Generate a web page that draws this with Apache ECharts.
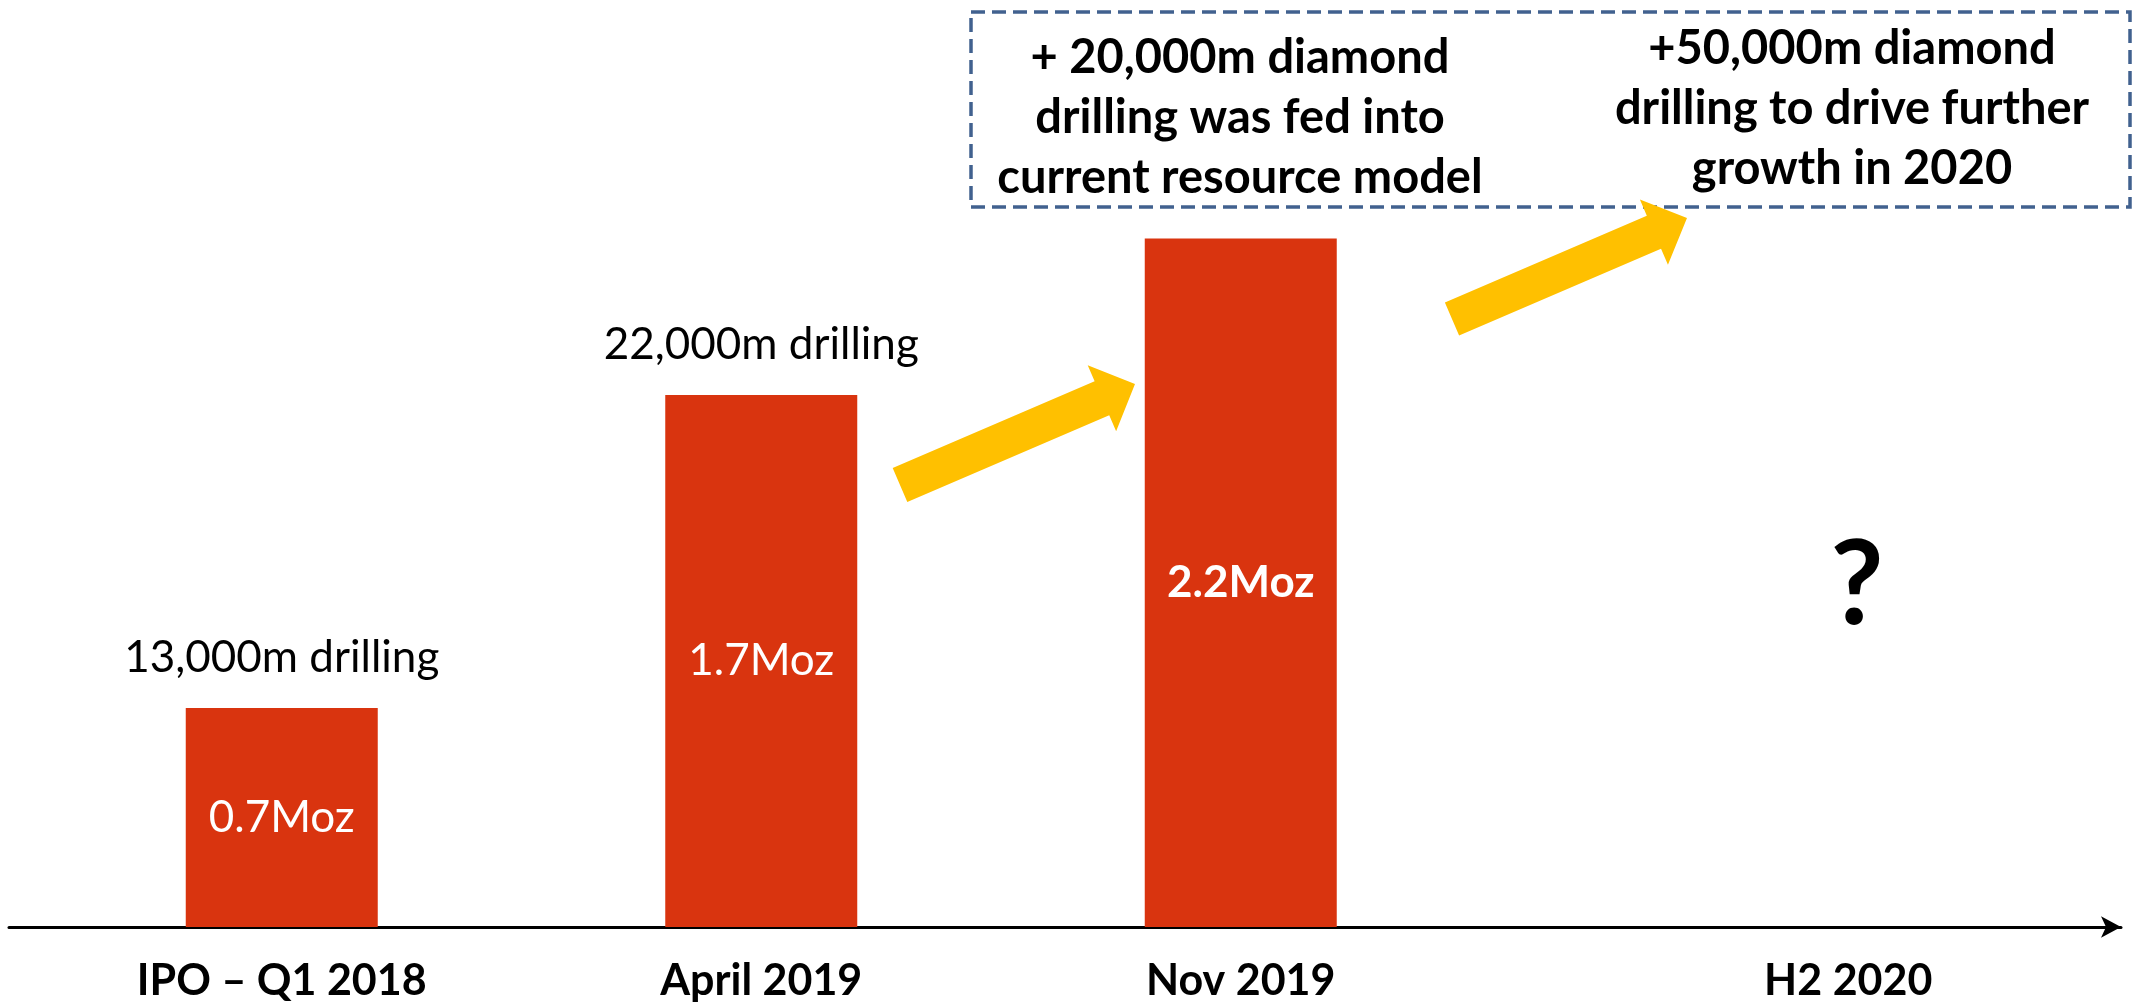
<!DOCTYPE html>
<html>
<head>
<meta charset="utf-8">
<title>Resource growth</title>
<script src="https://cdn.jsdelivr.net/npm/echarts@6/dist/echarts.min.js"></script>
<style>
  html, body { margin: 0; padding: 0; background: #fff; }
  #main { width: 2136px; height: 1003px; }
</style>
</head>
<body>
<div id="main"></div>
<script>
  // data
  const periods = ['IPO – Q1 2018', 'April 2019', 'Nov 2019', 'H2 2020'];
  const resourceMoz = [0.7, 1.7, 2.2, '-'];
  const drillNotes = ['13,000m drilling', '22,000m drilling'];
  const boxNotes = [
    '+ 20,000m diamond\ndrilling was fed into\ncurrent resource model',
    '+50,000m diamond\ndrilling to drive further\ngrowth in 2020'
  ];

  const FONT = 'Lato';
  const RED = '#D9340F';
  const YELLOW = '#FFC000';

  // block arrow polygon from tail centre to tip
  function arrowPoints(tx, ty, hx, hy, shaftW, headW, headL) {
    const dx = hx - tx, dy = hy - ty;
    const len = Math.sqrt(dx * dx + dy * dy);
    const ux = dx / len, uy = dy / len;
    const nx = -uy, ny = ux;
    const bx = hx - ux * headL, by = hy - uy * headL;
    const s = shaftW / 2, h = headW / 2;
    return [
      [tx + nx * s, ty + ny * s],
      [bx + nx * s, by + ny * s],
      [bx + nx * h, by + ny * h],
      [hx, hy],
      [bx - nx * h, by - ny * h],
      [bx - nx * s, by - ny * s],
      [tx - nx * s, ty - ny * s]
    ];
  }

  const chart = echarts.init(document.getElementById('main'));

  chart.setOption({
    animation: false,
    backgroundColor: '#fff',
    textStyle: { fontFamily: FONT },
    grid: [
      { left: 42, right: 176, top: 176, bottom: 76 },
      { left: 9, right: 15, top: 176, bottom: 76 }
    ],
    xAxis: [{
      type: 'category',
      data: periods,
      axisLine: { show: false },
      axisTick: { show: false },
      axisLabel: {
        margin: 32,
        fontFamily: FONT,
        fontSize: 43,
        fontWeight: 'bold',
        lineHeight: 44,
        color: '#000',
        formatter: function (v) {
          return v === 'H2 2020' ? '{far|' + v + '}' : v;
        },
        rich: {
          far: {
            padding: [0, 0, 0, 256],
            fontFamily: FONT,
            fontSize: 43,
            fontWeight: 'bold',
            lineHeight: 44,
            color: '#000'
          }
        }
      }
    }, {
      type: 'value',
      gridIndex: 1,
      min: 0,
      max: 1,
      axisLine: {
        show: true,
        symbol: ['none', 'arrow'],
        symbolSize: [16, 20],
        lineStyle: { color: '#000', width: 3 }
      },
      axisTick: { show: false },
      axisLabel: { show: false },
      splitLine: { show: false }
    }],
    yAxis: [
      { type: 'value', min: 0, max: 2.4, show: false },
      { type: 'value', gridIndex: 1, show: false }
    ],
    series: [{
      name: 'Resource',
      type: 'bar',
      data: resourceMoz.map(function (v, i) {
        return i === 2 ? { value: v, label: { fontWeight: 'bold' } } : v;
      }),
      barWidth: 192,
      itemStyle: { color: RED },
      label: {
        show: true,
        position: 'inside',
        fontFamily: FONT,
        fontSize: 44,
        color: '#fff',
        formatter: function (p) { return p.value + 'Moz'; }
      },
      z: 2
    }, {
      name: 'Drilling',
      type: 'bar',
      data: resourceMoz,
      barWidth: 192,
      barGap: '-100%',
      silent: true,
      itemStyle: { color: 'rgba(0,0,0,0)' },
      label: {
        show: true,
        position: 'top',
        distance: 28,
        fontFamily: FONT,
        fontSize: 44,
        lineHeight: 44,
        color: '#000',
        formatter: function (p) { return drillNotes[p.dataIndex] || ''; }
      },
      z: 3
    }],
    graphic: [{
      type: 'rect',
      shape: { x: 971, y: 12, width: 1159, height: 195 },
      style: { fill: 'none', stroke: '#41618F', lineWidth: 3.5, lineDash: [14, 7] },
      z: 10
    }, {
      type: 'text',
      x: 1240, y: 118,
      style: {
        text: boxNotes[0], align: 'center', verticalAlign: 'middle',
        fontFamily: FONT, fontSize: 47, fontWeight: 'bold', lineHeight: 60, fill: '#000'
      },
      z: 11
    }, {
      type: 'text',
      x: 1852, y: 109,
      style: {
        text: boxNotes[1], align: 'center', verticalAlign: 'middle',
        fontFamily: FONT, fontSize: 47, fontWeight: 'bold', lineHeight: 60, fill: '#000'
      },
      z: 11
    }, {
      type: 'polygon',
      shape: { points: arrowPoints(900, 485, 1135, 384, 37, 72, 36) },
      style: { fill: YELLOW },
      z: 12
    }, {
      type: 'polygon',
      shape: { points: arrowPoints(1452, 319, 1687, 218, 36, 71, 36) },
      style: { fill: YELLOW },
      z: 12
    }, {
      type: 'text',
      x: 1857, y: 587,
      style: {
        text: '?', align: 'center', verticalAlign: 'middle',
        fontFamily: FONT, fontSize: 116, fontWeight: 'bold', fill: '#000'
      },
      z: 11
    }]
  });

  window.addEventListener('resize', function () { chart.resize(); });
</script>
</body>
</html>
